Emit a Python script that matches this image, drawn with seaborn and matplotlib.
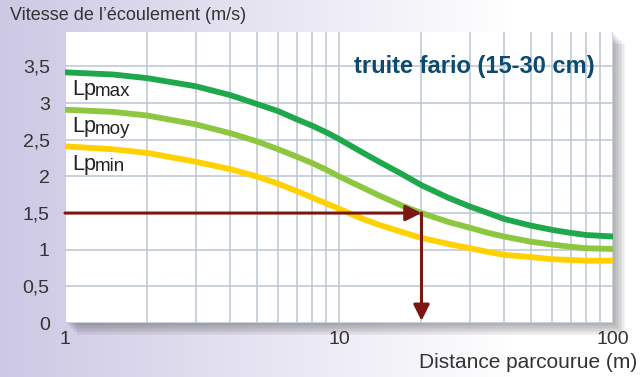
import numpy as np
import pandas as pd
import matplotlib.pyplot as plt
import matplotlib.patches as mpatches
from matplotlib.ticker import FixedLocator, NullFormatter
import seaborn as sns

# values
distance = [1, 1.5, 2, 3, 4, 5, 6, 7, 8, 9, 10, 12, 14, 17, 20, 25, 30, 35, 40, 50, 60, 70, 80, 100]
lp_max = [3.42, 3.39, 3.34, 3.23, 3.11, 2.99, 2.89, 2.78, 2.69, 2.60, 2.51, 2.34, 2.20, 2.03, 1.88,
          1.71, 1.59, 1.50, 1.42, 1.33, 1.27, 1.23, 1.20, 1.18]
lp_moy = [2.91, 2.88, 2.83, 2.71, 2.59, 2.48, 2.37, 2.27, 2.18, 2.09, 2.00, 1.86, 1.74, 1.60, 1.50,
          1.38, 1.30, 1.23, 1.18, 1.11, 1.07, 1.04, 1.02, 1.01]
lp_min = [2.41, 2.37, 2.32, 2.20, 2.10, 2.00, 1.90, 1.80, 1.71, 1.63, 1.56, 1.43, 1.34, 1.24, 1.16,
          1.08, 1.02, 0.97, 0.93, 0.90, 0.87, 0.86, 0.85, 0.85]
colors = {"max": "#1fa74b", "moy": "#8dc63f", "min": "#ffd100"}
label_y = {"max": 3.115, "moy": 2.60, "min": 2.09}
y_ticks = [0, 0.5, 1, 1.5, 2, 2.5, 3, 3.5]
y_labels = ["0", "0,5", "1", "1,5", "2", "2,5", "3", "3,5"]
x_ticks = [1, 10, 100]
x_labels = ["1", "10", "100"]
target_dist = 20
target_speed = 1.5

df = pd.DataFrame({
    "distance": distance * 3,
    "vitesse": lp_max + lp_moy + lp_min,
    "courbe": ["max"] * len(distance) + ["moy"] * len(distance) + ["min"] * len(distance),
})

sns.set_style("white")
plt.rcParams["font.family"] = ["Liberation Sans", "DejaVu Sans"]

fig = plt.figure(figsize=(6.42, 3.77), dpi=100)

# lavender gradient background
bg = fig.add_axes([0, 0, 1, 1], zorder=-2)
grad = np.clip(np.linspace(0, 1, 256) / 0.8, 0, 1)
left_col = np.array([205, 200, 228]) / 255
img = left_col[None, :] * (1 - grad[:, None]) + grad[:, None]
bg.imshow(img[None, :, :], aspect="auto", extent=[0, 1, 0, 1])
bg.set_xlim(0, 1)
bg.set_ylim(0, 1)
bg.axis("off")

ax_l, ax_b, ax_w, ax_h = 65 / 642, 1 - 323 / 377, (613 - 65) / 642, (323 - 32) / 377
# soft drop shadow behind the plot area
for i in range(8):
    off = (8 - i) * 1.5
    bg.add_patch(mpatches.Rectangle((ax_l + off / 642, ax_b - off / 377), ax_w, ax_h,
                                    transform=fig.transFigure, color="#444444", alpha=0.06, lw=0))

ax = fig.add_axes([ax_l, ax_b, ax_w, ax_h])
ax.set_facecolor("white")

sns.lineplot(data=df, x="distance", y="vitesse", hue="courbe", palette=colors,
             linewidth=4.2, legend=False, ax=ax, zorder=3)

ax.set_xscale("log")
ax.set_xlim(1, 100)
ax.set_ylim(0, 3.97)
ax.xaxis.set_major_locator(FixedLocator(x_ticks))
ax.xaxis.set_minor_locator(FixedLocator([2, 3, 4, 5, 6, 7, 8, 9, 20, 30, 40, 50, 60, 70, 80, 90]))
ax.xaxis.set_minor_formatter(NullFormatter())
ax.set_xticks(x_ticks, x_labels)
ax.set_yticks(y_ticks, y_labels)
ax.grid(True, which="both", color="#bac6d2", linewidth=1.1, zorder=0)
ax.tick_params(axis="both", which="both", length=0, labelsize=14, colors="#333333")
ax.tick_params(axis="y", pad=11)
ax.tick_params(axis="x", pad=6)
for s in ax.spines.values():
    s.set_visible(False)
ax.set_xlabel("")
ax.set_ylabel("")

# reading arrows
arrow_col = "#7b1710"
ax.annotate("", xy=(target_dist, target_speed), xytext=(1, target_speed),
            arrowprops=dict(arrowstyle="-|>", color=arrow_col, lw=2.2, mutation_scale=24,
                            shrinkA=0, shrinkB=0), zorder=4)
ax.annotate("", xy=(target_dist, 0.03), xytext=(target_dist, target_speed),
            arrowprops=dict(arrowstyle="-|>", color=arrow_col, lw=2.2, mutation_scale=24,
                            shrinkA=0, shrinkB=0), zorder=4)

# curve labels: "Lp" + index
for key, yv in label_y.items():
    ax.text(1.06, yv, "Lp", fontsize=15.5, color="#222222", va="baseline", zorder=5)
    ax.text(1.285, yv - 0.015, key, fontsize=13.5, color="#222222", va="baseline", zorder=5)

# species box
bg.add_patch(mpatches.Rectangle((340 / 642, 1 - 90 / 377), 272 / 642, 53 / 377,
                                transform=fig.transFigure, color="white", lw=0, zorder=10))
fig.text(474 / 642, 1 - 66 / 377, "truite fario (15-30 cm)", fontsize=17, fontweight="bold",
         color="#0c4a70", ha="center", va="center", zorder=11)

fig.text(10 / 642, 1 - 16 / 377, "Vitesse de l\u2019écoulement (m/s)", fontsize=13,
         color="#333333", ha="left", va="center")
fig.text(637 / 642, 1 - 362 / 377, "Distance parcourue (m)", fontsize=15,
         color="#333333", ha="right", va="center")

plt.savefig("out.png", dpi=100)
plt.close()
